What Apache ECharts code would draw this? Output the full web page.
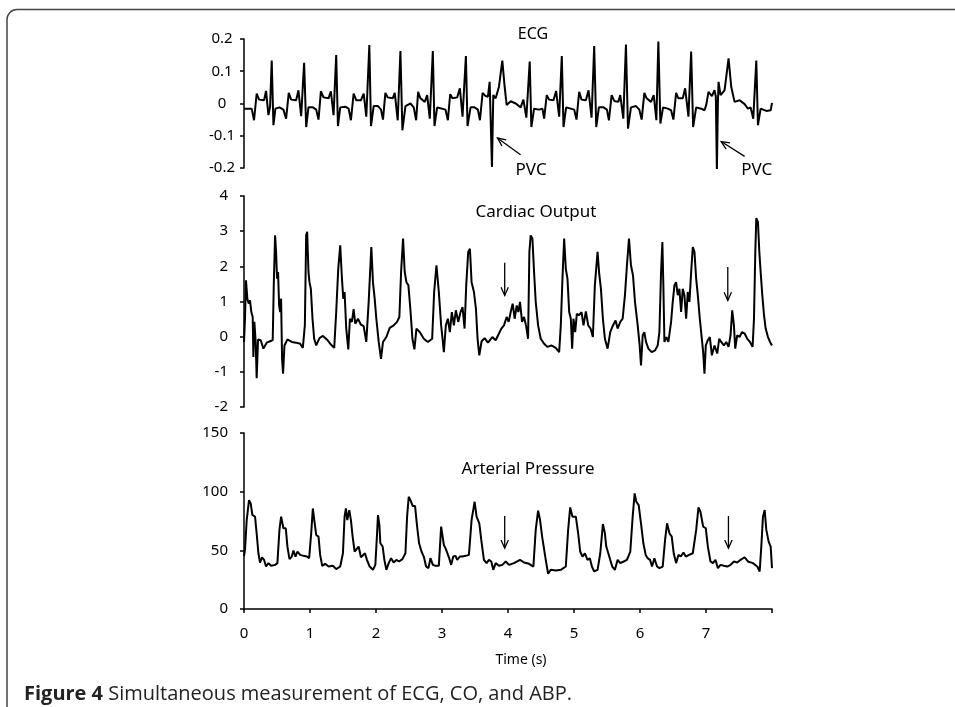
<!DOCTYPE html>
<html><head><meta charset="utf-8">
<script src="https://cdn.jsdelivr.net/npm/echarts@6/dist/echarts.min.js"></script>
<style>html,body{margin:0;padding:0;background:#fff}#c{width:955px;height:707px}</style>
</head><body><div id="c"></div>
<script>
// ---------- ECG ----------
const ecgT = [0,0.116,0.152,0.192,0.228,0.304,0.334,0.370,0.395,0.420,0.446,0.476,0.537,0.597,
0.638,0.678,0.714,0.790,0.825,0.866,0.911,0.942,0.977,1.043,1.094,
1.129,1.165,1.205,1.281,1.316,1.357,1.397,1.423,1.458,1.534,1.585,
1.620,1.661,1.701,1.772,1.813,1.853,1.899,1.924,1.965,2.030,2.076,
2.106,2.142,2.177,2.253,2.284,2.329,2.370,2.400,2.446,2.522,2.572,
2.608,2.638,2.673,2.739,2.775,2.815,2.861,2.886,2.927,3.003,3.053,
3.089,3.124,3.159,3.230,3.271,3.311,3.362,3.387,3.433,3.494,3.544,
3.575,3.615,3.661,3.696,3.722,3.757,3.777,3.813,3.863,3.914,3.949,3.980,4.041,4.117,4.192,4.233,4.278,4.329,4.354,4.395,4.471,4.522,
4.547,4.587,4.623,4.689,4.729,4.775,4.815,4.841,4.881,4.952,5.003,
5.038,5.078,5.114,5.180,5.220,5.266,5.306,5.337,5.377,5.448,5.499,
5.529,5.570,5.610,5.671,5.701,5.747,5.787,5.818,5.863,5.939,5.990,
6.025,6.066,6.101,6.167,6.208,6.248,6.278,6.309,6.349,6.420,6.471,
6.506,6.547,6.582,6.648,6.684,6.734,6.775,6.805,6.851,6.927,6.977,
7.003,7.038,7.089,7.129,7.149,7.165,7.180,7.190,7.220,7.281,7.342,7.382,7.433,7.509,7.585,7.635,7.676,7.716,7.762,7.787,7.828,7.914,7.980,8.000];
const ecgV = [-0.016,-0.016,-0.052,0.031,0.012,0.010,0.039,-0.036,-0.010,0.133,-0.067,-0.016,-0.012,-0.019,
-0.047,0.033,0.012,0.010,0.041,-0.039,0.126,-0.073,-0.012,-0.012,-0.019,
-0.050,0.038,0.019,0.016,0.038,-0.036,0.150,-0.070,-0.012,-0.010,-0.016,
-0.052,0.031,0.010,0.010,0.031,-0.041,0.181,-0.070,-0.008,-0.008,-0.019,
-0.050,0.033,0.019,0.016,0.033,-0.052,0.163,-0.083,-0.008,0.000,-0.012,
-0.052,0.036,0.016,0.005,0.026,-0.047,0.163,-0.070,-0.012,-0.016,-0.019,
-0.052,0.029,0.016,0.019,0.047,-0.041,0.147,-0.070,-0.012,-0.012,-0.019,
-0.052,0.033,0.023,0.021,0.067,-0.197,0.026,0.016,0.052,0.133,0.052,-0.005,0.007,0.000,-0.012,0.012,-0.044,0.130,-0.073,-0.016,-0.019,-0.016,
-0.047,0.026,0.012,0.010,0.039,-0.041,0.147,-0.073,-0.012,-0.016,-0.019,
-0.050,0.036,0.012,0.010,0.041,-0.044,0.178,-0.073,-0.012,-0.012,-0.019,
-0.052,0.026,0.008,0.005,0.026,-0.047,0.183,-0.078,-0.012,-0.008,-0.019,
-0.050,0.033,0.016,0.005,0.026,-0.052,0.192,-0.062,-0.012,-0.016,-0.021,
-0.050,0.033,0.016,0.016,0.047,-0.041,0.161,-0.073,-0.012,-0.016,-0.021,
-0.005,0.036,0.023,0.041,0.021,-0.209,0.000,0.067,0.026,0.041,0.140,0.052,0.005,0.010,-0.002,-0.016,-0.012,-0.047,0.133,-0.067,-0.016,-0.023,-0.021,0.002];

// ---------- Cardiac output ----------
const coT = [0.000,0.015,0.030,0.051,0.071,0.091,0.111,0.132,0.142,0.157,0.177,0.192,0.213,0.253,0.294,0.344,0.395,0.435,
0.451,0.471,0.486,0.501,0.516,0.532,0.547,0.562,0.577,0.592,0.613,0.658,0.724,0.790,0.851,0.891,
0.922,0.942,0.957,0.977,0.992,1.013,1.038,1.063,1.094,1.144,1.195,1.256,1.306,1.367,
1.397,1.428,1.458,1.484,1.504,1.524,1.549,1.580,1.605,1.635,1.661,1.686,1.727,1.772,1.813,1.853,
1.889,1.929,1.954,1.980,2.005,2.041,2.076,2.106,2.157,2.208,2.268,2.319,2.354,
2.380,2.410,2.435,2.461,2.491,2.522,2.552,2.582,2.613,2.663,2.724,2.785,2.851,
2.881,2.916,2.952,2.987,3.013,3.028,3.058,3.089,3.119,3.149,3.180,3.210,3.246,3.281,3.311,3.342,
3.367,3.397,3.423,3.448,3.484,3.514,3.539,3.565,3.600,3.646,3.696,
3.711,3.762,3.813,3.863,3.899,3.939,3.980,4.010,4.041,4.071,4.101,4.132,4.157,4.182,4.213,4.243,4.273,4.304,
4.324,4.344,4.370,4.395,4.420,4.456,4.496,4.547,4.597,4.658,4.724,4.775,
4.800,4.825,4.851,4.876,4.901,4.927,4.952,4.972,4.992,5.018,5.043,5.078,5.114,5.144,5.180,5.215,5.251,5.286,
5.316,5.357,5.382,5.408,5.438,5.468,5.509,5.549,5.590,5.630,5.661,5.701,5.737,
5.772,5.802,5.833,5.863,5.894,5.924,5.965,5.995,6.015,6.041,6.066,6.091,6.127,6.177,6.228,6.268,
6.294,6.319,6.339,6.354,6.370,6.400,6.430,6.471,6.496,6.522,6.547,6.572,6.597,6.623,6.648,6.673,6.699,6.724,6.749,
6.775,6.800,6.825,6.851,6.876,6.906,6.937,6.957,6.977,6.997,7.028,7.058,7.089,7.129,7.170,7.200,7.230,7.271,7.307,7.342,
7.372,7.397,7.423,7.443,7.473,7.509,7.544,7.585,7.625,7.666,7.706,
7.727,7.747,7.762,7.787,7.808,7.828,7.853,7.879,7.904,7.939,7.970,8.000];
const coV = [-0.15,0.51,1.60,1.08,0.94,1.03,0.70,0.56,-0.58,0.42,-0.15,-1.18,-0.08,-0.10,-0.34,-0.17,-0.13,-0.10,
1.46,2.88,2.41,1.65,1.84,0.89,0.70,1.08,-0.63,-1.05,-0.25,-0.08,-0.15,-0.17,-0.20,-0.32,
0.32,2.88,2.98,1.84,1.55,1.36,0.51,-0.06,-0.25,-0.04,0.02,-0.08,-0.20,-0.32,
0.70,1.93,2.60,1.65,1.08,1.27,0.23,-0.36,0.51,0.42,0.78,0.37,0.51,0.34,0.30,-0.15,
0.99,2.55,1.55,1.08,0.51,-0.15,-0.63,-0.15,-0.01,0.25,0.32,0.42,0.56,
1.84,2.79,1.84,1.55,1.46,0.75,-0.06,-0.36,0.23,0.13,-0.06,-0.15,-0.06,
1.27,2.03,1.27,0.32,-0.15,-0.44,0.32,0.51,0.13,0.70,0.32,0.75,0.42,0.70,0.84,0.23,
1.46,2.41,2.50,1.55,1.27,0.80,-0.06,-0.53,-0.13,-0.04,-0.17,
-0.15,-0.01,-0.10,0.09,0.23,0.32,0.56,0.42,0.70,0.94,0.51,0.89,0.70,0.99,0.42,0.56,0.32,-0.06,
2.41,2.88,2.79,1.84,0.99,0.32,-0.06,-0.20,-0.29,-0.25,-0.32,-0.44,
0.32,1.65,2.79,1.93,1.65,0.70,0.51,-0.34,0.51,0.13,0.65,0.61,0.70,0.32,0.72,0.32,0.23,-0.01,
1.46,2.41,1.79,1.36,0.51,-0.06,-0.34,0.13,0.32,0.46,0.23,0.42,0.51,
1.18,2.03,2.79,2.03,1.74,0.99,0.32,-0.25,-0.82,0.04,0.13,-0.15,-0.34,-0.44,-0.39,-0.25,
0.13,1.84,2.69,1.46,-0.15,-0.01,-0.15,0.42,0.99,1.46,1.55,1.18,1.36,0.70,1.36,1.18,0.51,1.27,0.99,
1.84,2.55,2.41,1.65,1.18,0.51,-0.06,-0.44,-1.05,-0.25,-0.10,-0.01,-0.53,-0.25,-0.48,-0.06,-0.15,-0.25,-0.15,-0.29,
0.04,0.75,0.32,-0.34,0.04,-0.01,0.13,0.09,-0.06,-0.15,-0.29,
0.51,2.41,3.37,3.26,2.41,1.84,1.18,0.61,0.23,-0.01,-0.15,-0.25];

// ---------- Arterial pressure ----------
const abpT = [0.000,0.015,0.041,0.076,0.101,0.127,0.167,0.192,0.218,0.243,0.273,0.304,0.334,0.370,0.410,0.471,
0.506,0.537,0.562,0.597,0.633,0.658,0.689,0.724,0.749,0.780,0.810,0.851,0.901,0.952,
0.987,1.018,1.043,1.068,1.094,1.129,1.154,1.185,1.230,1.281,1.347,1.397,1.458,
1.499,1.524,1.544,1.565,1.595,1.620,1.646,1.676,1.701,1.737,1.772,1.797,1.833,1.863,1.904,1.954,
1.990,2.015,2.030,2.051,2.066,2.101,2.127,2.157,2.192,2.228,2.268,2.309,2.349,2.400,
2.446,2.471,2.496,2.522,2.557,2.592,2.623,2.653,2.689,2.724,2.759,2.795,2.825,2.861,2.901,
2.952,2.987,3.008,3.028,3.053,3.078,3.109,3.139,3.170,3.205,3.230,3.271,3.311,3.357,3.408,
3.448,3.494,3.524,3.565,3.595,3.635,3.676,3.711,
3.747,3.777,3.813,3.863,3.914,3.965,4.015,4.091,4.182,4.243,4.319,4.385,
4.420,4.456,4.486,4.517,4.547,4.572,4.608,4.648,4.724,4.800,4.876,
4.911,4.942,4.977,5.028,5.063,5.094,5.129,5.165,5.205,5.240,5.271,5.306,5.357,
5.398,5.438,5.468,5.489,5.519,5.549,5.580,5.620,5.661,5.701,5.752,5.802,
5.853,5.889,5.919,5.944,5.980,6.015,6.051,6.086,6.117,6.152,6.182,6.218,6.258,6.294,6.344,
6.380,6.410,6.446,6.481,6.511,6.547,6.582,6.618,6.658,6.694,6.744,6.800,
6.851,6.886,6.916,6.957,6.997,7.028,7.068,7.104,7.144,7.180,7.220,7.271,7.322,7.372,7.423,7.473,7.524,7.585,7.635,7.711,7.777,7.813,
7.838,7.863,7.889,7.914,7.949,7.980,8.000];
const abpV = [45,50.4,75.8,92.8,90.0,80.1,78.7,64.5,47.5,39.6,44.1,41.9,36.2,39.1,36.8,37.6,
39.1,67.4,78.7,68.8,68.8,53.2,42.5,44.7,49.8,44.7,49.0,46.1,45.3,44.7,
43.3,64.5,85.7,74.4,63.1,61.7,46.1,36.8,38.5,36.2,36.8,34.0,36.2,
47.5,78.7,85.7,75.8,84.3,75.8,61.7,49.0,47.5,53.2,44.1,43.3,47.5,41.9,36.2,33.4,
37.6,63.1,80.1,71.6,56.0,53.2,41.9,33.4,39.1,43.3,39.6,41.9,40.5,42.5,
47.5,78.7,95.7,92.8,87.7,87.7,70.2,56.0,49.0,44.7,36.2,34.8,43.3,37.6,36.8,
36.8,70.2,71.6,54.6,51.8,51.8,43.3,37.6,44.7,45.3,41.9,44.7,44.7,45.3,46.1,
75.8,91.4,78.7,73.0,58.9,41.9,39.1,41.9,
40.5,33.4,39.1,36.8,37.6,40.5,37.6,39.1,41.9,39.6,38.5,36.2,
67.4,83.8,75.8,61.7,60.3,41.9,30.0,33.4,32.8,33.4,36.2,
67.4,86.6,78.7,78.7,64.5,49.0,44.7,47.5,41.9,43.3,36.2,32.0,33.4,
47.5,72.4,64.5,53.2,51.8,41.9,36.2,33.4,41.9,39.1,40.5,41.9,
49.0,78.7,98.5,91.4,88.6,73.0,56.0,46.1,43.3,41.9,36.2,43.3,36.2,34.8,36.2,
58.9,73.0,64.5,61.7,47.5,39.1,46.1,44.7,48.1,44.7,46.1,47.5,
67.4,86.6,82.9,70.2,68.8,53.2,40.5,39.1,41.9,34.8,37.6,36.8,36.2,37.6,40.5,39.6,41.9,44.1,40.5,39.1,36.2,32.0,
53.2,78.7,84.3,67.4,57.4,53.2,34.8];

// ---------- axes / labels ----------
const xTickLabels = ['0','1','2','3','4','5','6','7',''];
const panelTitles = ['ECG', 'Cardiac Output', 'Arterial Pressure'];
const xAxisName = 'Time (s)';
const captionBold = 'Figure 4';
const captionText = ' Simultaneous measurement of ECG, CO, and ABP.';
// annotation arrows [panel, tailT, tailV, headT, headV]
const arrows = [[0,4.19,-0.159,3.84,-0.107],[0,7.585,-0.164,7.23,-0.118],
                [1,3.95,2.10,3.95,1.17],[1,7.33,1.98,7.33,1.03],
                [2,3.95,79.2,3.95,51.8],[2,7.34,79.2,7.34,51.8]];
const pvcLabels = [[4.35,-0.206],[7.77,-0.206]];

const FONT = '"Noto Sans", "Open Sans", sans-serif';
const zip = (a, b) => a.map((t, i) => [t, b[i]]);
const axLine = {show: true, onZero: false, lineStyle: {color: '#000', width: 1.5}};
const axTick = {show: true, length: 4, lineStyle: {color: '#000', width: 1.5}};
function yAx(gi, min, max, interval, align, margin) {
  return {type: 'value', gridIndex: gi, min, max, interval, axisLine: axLine, axisTick: axTick,
    splitLine: {show: false},
    axisLabel: {color: '#000', fontSize: 15, fontFamily: FONT, margin, align}};
}
function xAx(gi, show) {
  return {type: 'value', gridIndex: gi, min: 0, max: 8, interval: 1, show,
    axisLine: axLine, axisTick: axTick, splitLine: {show: false},
    axisLabel: {color: '#000', fontSize: 15, fontFamily: FONT, margin: 17,
      formatter: v => xTickLabels[Math.round(v)] ?? ''}};
}
function ser(i, t, v) {
  return {type: 'line', xAxisIndex: i, yAxisIndex: i, data: zip(t, v), showSymbol: false, symbol: 'none',
    lineStyle: {color: '#000', width: 2}, silent: true, animation: false};
}

const chart = echarts.init(document.getElementById('c'));
chart.setOption({
  animation: false,
  backgroundColor: '#fff',
  grid: [
    {left: 244, right: 183, top: 39, height: 129},
    {left: 244, right: 183, top: 196, height: 211},
    {left: 244, right: 183, top: 433, height: 176}
  ],
  xAxis: [xAx(0, false), xAx(1, false), xAx(2, true)],
  yAxis: [yAx(0, -0.2, 0.2, 0.1, 'center', 22), yAx(1, -2, 4, 1, 'right', 16), yAx(2, 0, 150, 50, 'right', 16)],
  series: [ser(0, ecgT, ecgV), ser(1, coT, coV), ser(2, abpT, abpV)]
});

// ---------- graphics: frame, titles, caption, arrows ----------
const CAPFONT = '"Open Sans", "Noto Sans", sans-serif';
const els = [
  {type: 'rect', shape: {x: 7, y: 9.5, width: 1000, height: 800, r: 10},
   style: {fill: null, stroke: '#444', lineWidth: 1.5}, silent: true},
  {type: 'text', x: 533, y: 34, style: {text: panelTitles[0], font: '16px ' + FONT, fill: '#000', align: 'center', verticalAlign: 'middle'}},
  {type: 'text', x: 536, y: 212, style: {text: panelTitles[1], font: '17px ' + FONT, fill: '#000', align: 'center', verticalAlign: 'middle'}},
  {type: 'text', x: 528, y: 469, style: {text: panelTitles[2], font: '17px ' + FONT, fill: '#000', align: 'center', verticalAlign: 'middle'}},
  {type: 'text', x: 521, y: 660, style: {text: xAxisName, font: '14px ' + FONT, fill: '#000', align: 'center', verticalAlign: 'middle'}},
  {type: 'text', x: 24, y: 694, style: {
    text: '{b|' + captionBold + '}{r|' + captionText + '}', verticalAlign: 'middle', align: 'left',
    rich: {b: {fontWeight: 'bold', fontSize: 20, fontFamily: CAPFONT, fill: '#222'},
           r: {fontSize: 20, fontFamily: CAPFONT, fill: '#222'}}}}
];
arrows.forEach(a => {
  const p0 = chart.convertToPixel({gridIndex: a[0]}, [a[1], a[2]]);
  const p1 = chart.convertToPixel({gridIndex: a[0]}, [a[3], a[4]]);
  const ang = Math.atan2(p1[1] - p0[1], p1[0] - p0[0]);
  const L = 9, s = 0.42;
  const b1 = [p1[0] - L * Math.cos(ang - s), p1[1] - L * Math.sin(ang - s)];
  const b2 = [p1[0] - L * Math.cos(ang + s), p1[1] - L * Math.sin(ang + s)];
  els.push({type: 'polyline', shape: {points: [p0, p1]}, style: {stroke: '#000', lineWidth: 1.3, fill: null}});
  els.push({type: 'polyline', shape: {points: [b1, p1, b2]}, style: {stroke: '#000', lineWidth: 1.3, fill: null}});
});
pvcLabels.forEach(p => {
  const q = chart.convertToPixel({gridIndex: 0}, p);
  els.push({type: 'text', x: q[0], y: q[1], style: {text: 'PVC', font: '17px ' + FONT, fill: '#000', align: 'center', verticalAlign: 'middle'}});
});
chart.setOption({graphic: {elements: els}});
</script></body></html>
